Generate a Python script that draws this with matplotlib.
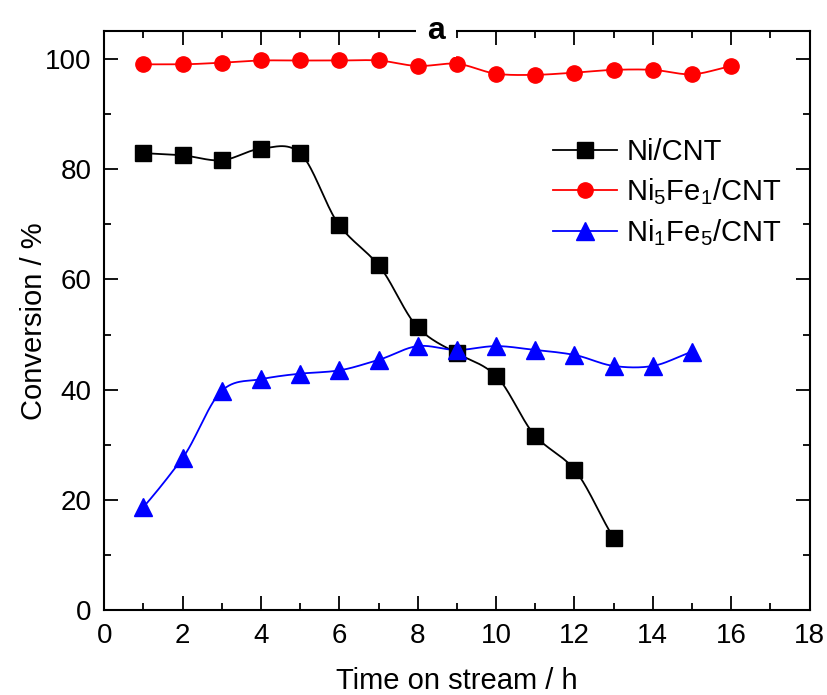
import matplotlib
matplotlib.use("Agg")
import matplotlib.pyplot as plt
import numpy as np
from matplotlib.ticker import MultipleLocator

plt.rcParams["font.family"] = ["Liberation Sans", "DejaVu Sans"]
plt.rcParams["mathtext.fontset"] = "custom"
plt.rcParams["mathtext.rm"] = "Liberation Sans"
plt.rcParams["mathtext.default"] = "regular"

# Time on stream (h) and conversion (%)
t_ni = [1, 2, 3, 4, 5, 6, 7, 8, 9, 10, 11, 12, 13]
conv_ni = [82.9, 82.5, 81.6, 83.7, 82.9, 69.8, 62.6, 51.3, 46.6, 42.5, 31.6, 25.5, 13.1]

t_ni5fe1 = [1, 2, 3, 4, 5, 6, 7, 8, 9, 10, 11, 12, 13, 14, 15, 16]
conv_ni5fe1 = [99.0, 99.0, 99.3, 99.7, 99.7, 99.7, 99.7, 98.7, 99.1, 97.3, 97.1, 97.5, 98.0, 98.0, 97.2, 98.7]

t_ni1fe5 = [1, 2, 3, 4, 5, 6, 7, 8, 9, 10, 11, 12, 13, 14, 15]
conv_ni1fe5 = [18.7, 27.6, 39.8, 41.9, 42.9, 43.5, 45.4, 47.9, 47.2, 47.9, 47.2, 46.3, 44.3, 44.3, 46.9]

labels = ["Ni/CNT", "Ni$_5$Fe$_1$/CNT", "Ni$_1$Fe$_5$/CNT"]


def smooth_line(x, y, n=400, tension=0.35):
    """Cardinal-spline connecting line through the measured points."""
    x = np.asarray(x, float)
    y = np.asarray(y, float)
    k = len(x)
    # slopes at the points (cardinal spline, damped to limit overshoot)
    d = np.zeros(k)
    d[1:-1] = (y[2:] - y[:-2]) / (x[2:] - x[:-2])
    d[0] = (y[1] - y[0]) / (x[1] - x[0])
    d[-1] = (y[-1] - y[-2]) / (x[-1] - x[-2])
    d *= (1 - tension) * 1.4
    xs = np.linspace(x[0], x[-1], n)
    idx = np.clip(np.searchsorted(x, xs) - 1, 0, k - 2)
    h = x[idx + 1] - x[idx]
    s = (xs - x[idx]) / h
    h00 = 2 * s ** 3 - 3 * s ** 2 + 1
    h10 = s ** 3 - 2 * s ** 2 + s
    h01 = -2 * s ** 3 + 3 * s ** 2
    h11 = s ** 3 - s ** 2
    ys = h00 * y[idx] + h10 * h * d[idx] + h01 * y[idx + 1] + h11 * h * d[idx + 1]
    return xs, ys


fig = plt.figure(figsize=(8.27, 6.95), dpi=100)
ax = fig.add_axes([0.126, 0.122, 0.853, 0.833])

series = [
    (t_ni, conv_ni, "black", "s", 12),
    (t_ni5fe1, conv_ni5fe1, "red", "o", 11),
    (t_ni1fe5, conv_ni1fe5, "blue", "^", 13),
]
for (x, y, color, marker, ms), label in zip(series, labels):
    xs, ys = smooth_line(x, y)
    ax.plot(xs, ys, color=color, lw=1.3, zorder=2)
    ax.plot(x, y, ls="none", marker=marker, color=color, ms=ms, zorder=3)
    ax.plot([], [], color=color, lw=1.3, marker=marker, ms=ms, label=label)

ax.set_xlim(0, 18)
ax.set_ylim(0, 105)
ax.xaxis.set_major_locator(MultipleLocator(2))
ax.xaxis.set_minor_locator(MultipleLocator(1))
ax.yaxis.set_major_locator(MultipleLocator(20))
ax.yaxis.set_minor_locator(MultipleLocator(10))
ax.tick_params(which="both", direction="in", top=True, right=True, width=1.3,
               labelsize=20, pad=9)
ax.tick_params(which="major", length=10)
ax.tick_params(which="minor", length=5)
for s in ax.spines.values():
    s.set_linewidth(1.5)

ax.set_xlabel("Time on stream / h", fontsize=21, labelpad=13)
ax.set_ylabel("Conversion / %", fontsize=21, labelpad=-2)

ax.text(0.47, 1.0, "a", transform=ax.transAxes, ha="center", va="center",
        fontsize=23, fontweight="bold",
        bbox=dict(facecolor="white", edgecolor="none", pad=8), zorder=5,
        clip_on=False)

ax.legend(loc="upper left", bbox_to_anchor=(0.62, 0.835), frameon=False,
          fontsize=21, handlelength=2.2, handletextpad=0.3, labelspacing=0.35,
          borderaxespad=0)

fig.savefig("out.png", dpi=100)
